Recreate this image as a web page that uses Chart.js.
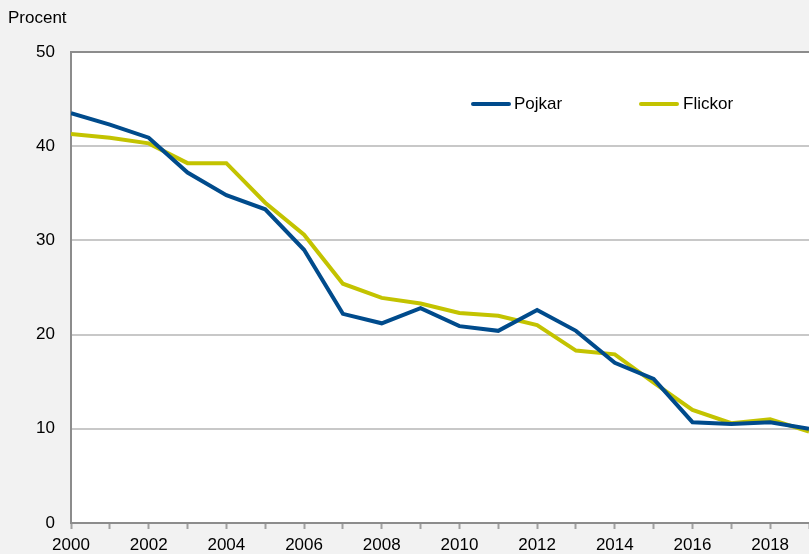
<!DOCTYPE html>
<html>
<head>
<meta charset="utf-8">
<script src="https://cdn.jsdelivr.net/npm/chart.js@4/dist/chart.umd.min.js"></script>
<style>
  body { margin: 0; background: #f2f2f2; }
  #wrap { position: relative; width: 809px; height: 554px; background: #f2f2f2; overflow: hidden; }
  #chart { position: absolute; left: 0; top: 0; }
  .txt { position: absolute; font-family: "Liberation Sans", Arial, sans-serif; font-size: 17px; color: #000; white-space: nowrap; line-height: 20px; }
  .key { position: absolute; height: 4px; border-radius: 2px; }
</style>
</head>
<body>
<div id="wrap">
  <canvas id="chart" width="809" height="554"></canvas>
  <div class="txt" style="left:8px; top:8px;">Procent</div>
  <div class="key" style="left:471px; top:102px; width:40px; background:#004b8c;"></div>
  <div class="txt" style="left:514px; top:94px;">Pojkar</div>
  <div class="key" style="left:639px; top:102px; width:40px; background:#c3c300;"></div>
  <div class="txt" style="left:683px; top:94px;">Flickor</div>
</div>
<script>
const years = [2000, 2001, 2002, 2003, 2004, 2005, 2006, 2007, 2008, 2009,
               2010, 2011, 2012, 2013, 2014, 2015, 2016, 2017, 2018, 2019]
const pojkar = [43.5, 42.3, 40.9, 37.2, 34.8, 33.3, 29.0, 22.2, 21.2, 22.8,
                20.9, 20.4, 22.6, 20.4, 17.0, 15.3, 10.7, 10.5, 10.7, 10.0]
const flickor = [41.3, 40.9, 40.3, 38.2, 38.2, 34.0, 30.6, 25.4, 23.9, 23.3,
                 22.3, 22.0, 21.0, 18.3, 17.9, 14.9, 12.0, 10.6, 11.0, 9.7]
const yTicks = [0, 10, 20, 30, 40, 50]

const toPoints = (vals) => vals.map((v, i) => ({ x: years[i], y: v }))

// white plot area on the grey page
const plotBg = {
    id: 'plotBg',
    beforeDraw(chart) {
        const a = chart.chartArea
        const ctx = chart.ctx
        ctx.save()
        ctx.fillStyle = '#ffffff'
        ctx.fillRect(a.left, a.top, a.right - a.left, a.bottom - a.top)
        ctx.restore()
    }
}

Chart.defaults.font.family = '"Liberation Sans", Arial, sans-serif'
Chart.defaults.font.size = 17
Chart.defaults.color = '#000'

new Chart(document.getElementById('chart').getContext('2d'), {
    type: 'line',
    data: {
        datasets: [{
            label: 'Pojkar',
            data: toPoints(pojkar),
            borderColor: '#004b8c',
            borderWidth: 4,
            pointRadius: 0,
            tension: 0
        }, {
            label: 'Flickor',
            data: toPoints(flickor),
            borderColor: '#c3c300',
            borderWidth: 4,
            pointRadius: 0,
            tension: 0
        }]
    },
    options: {
        responsive: false,
        devicePixelRatio: 1,
        animation: false,
        layout: { padding: { top: 52, right: 0, left: 0, bottom: 0 } },
        plugins: { legend: { display: false }, tooltip: { enabled: false } },
        scales: {
            x: {
                type: 'linear',
                min: years[0],
                max: years[years.length - 1],
                afterFit: (s) => { s.height = 31; s.paddingRight = 0 },
                afterBuildTicks: (s) => { s.ticks = years.map(v => ({ value: v })) },
                ticks: {
                    autoSkip: false,
                    maxRotation: 0,
                    padding: 6,
                    callback: (v) => v % 2 === 0 ? String(v) : ''
                },
                grid: {
                    drawOnChartArea: false,
                    tickLength: 6,
                    tickWidth: 2,
                    tickColor: '#a0a0a0'
                },
                border: { color: '#8c8c8c', width: 2 }
            },
            y: {
                min: 0,
                max: 50,
                afterFit: (s) => { s.width = 71 },
                afterBuildTicks: (s) => { s.ticks = yTicks.map(v => ({ value: v })) },
                ticks: { padding: 16 },
                grid: {
                    drawTicks: false,
                    lineWidth: 2,
                    color: (c) => c.tick && c.tick.value === 50 ? '#8c8c8c' : '#c8c8c8'
                },
                border: { color: '#8c8c8c', width: 2 }
            }
        }
    },
    plugins: [plotBg]
})
</script>
</body>
</html>
